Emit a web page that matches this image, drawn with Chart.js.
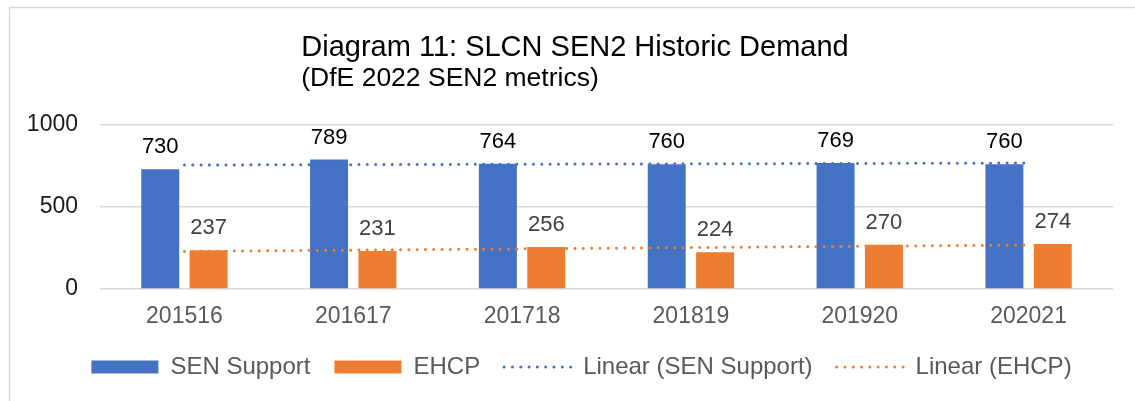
<!DOCTYPE html>
<html><head><meta charset="utf-8">
<script src="https://cdn.jsdelivr.net/npm/chart.js@4/dist/chart.umd.min.js"></script>
<style>html,body{margin:0;padding:0;background:#fff;} canvas{display:block;}</style>
</head><body>
<canvas id="c" width="1135" height="401"></canvas>
<script>
const titleText = 'Diagram 11: SLCN SEN2 Historic Demand';
const subtitleText = '(DfE 2022 SEN2 metrics)';
const categories = ['201516', '201617', '201718', '201819', '201920', '202021'];
const senSupport = [730, 789, 764, 760, 769, 760];
const ehcp = [237, 231, 256, 224, 270, 274];
// trend line end points (first and last category)
const trendSenSupport = [756, null, null, null, null, 768];
const trendEhcp = [229, null, null, null, null, 268];
const yTicks = [0, 500, 1000];
const seriesNames = ['SEN Support', 'EHCP', 'Linear (SEN Support)', 'Linear (EHCP)'];

const FONT = "'Liberation Sans', Arial, sans-serif";
const BLUE = '#4472C4', ORANGE = '#ED7D31';

const framePlugin = {
  id: 'frame',
  beforeDraw(chart) {
    const ctx = chart.ctx;
    ctx.save();
    ctx.fillStyle = '#fff';
    ctx.fillRect(0, 0, chart.width, chart.height);
    ctx.strokeStyle = '#d9d9d9';
    ctx.lineWidth = 1.5;
    ctx.strokeRect(9.5, 7.5, 1300, 600);
    ctx.restore();
  }
};

const legendShiftPlugin = {
  id: 'legendShift',
  afterLayout(chart) {
    if (chart.legend) chart.legend.left += 50;
  }
};

const titlePlugin = {
  id: 'titles',
  afterDraw(chart) {
    const ctx = chart.ctx;
    ctx.save();
    ctx.fillStyle = '#000';
    ctx.textBaseline = 'alphabetic';
    ctx.textAlign = 'left';
    ctx.font = '29px ' + FONT;
    const w = ctx.measureText(titleText).width;
    const x0 = 575 - w / 2;
    ctx.fillText(titleText, x0, 56);
    ctx.font = '26.5px ' + FONT;
    ctx.fillText(subtitleText, x0, 86);
    ctx.restore();
  }
};

const valueLabelPlugin = {
  id: 'valueLabels',
  afterDatasetsDraw(chart) {
    const ctx = chart.ctx;
    ctx.save();
    ctx.font = '22px ' + FONT;
    ctx.textAlign = 'center';
    ctx.textBaseline = 'alphabetic';
    chart.data.datasets.forEach((ds, i) => {
      if (ds.type !== 'bar') return;
      const meta = chart.getDatasetMeta(i);
      ctx.fillStyle = ds.labelColor;
      meta.data.forEach((el, j) => {
        ctx.fillText(String(ds.data[j]), el.x, el.y - 16);
      });
    });
    ctx.restore();
  }
};

new Chart(document.getElementById('c'), {
  data: {
    labels: categories,
    datasets: [
      { type: 'bar', label: seriesNames[0], data: senSupport, backgroundColor: BLUE, labelColor: '#000',
        barPercentage: 0.785, categoryPercentage: 0.573, order: 1 },
      { type: 'bar', label: seriesNames[1], data: ehcp, backgroundColor: ORANGE, labelColor: '#404040',
        barPercentage: 0.785, categoryPercentage: 0.573, order: 1 },
      { type: 'line', label: seriesNames[2], data: trendSenSupport, borderColor: BLUE, borderWidth: 3,
        borderDash: [0.01, 8.3], borderCapStyle: 'round', pointRadius: 0, spanGaps: true, fill: false, order: 0 },
      { type: 'line', label: seriesNames[3], data: trendEhcp, borderColor: ORANGE, borderWidth: 3,
        borderDash: [0.01, 8.3], borderCapStyle: 'round', pointRadius: 0, spanGaps: true, fill: false, order: 0 }
    ]
  },
  options: {
    responsive: false,
    devicePixelRatio: 1,
    animation: false,
    layout: { padding: { top: 125, left: 0, right: 22, bottom: 12 } },
    plugins: {
      title: { display: false },
      tooltip: { enabled: false },
      legend: {
        position: 'bottom',
        labels: {
          usePointStyle: true,
          pointStyleWidth: 67,
          boxHeight: 13,
          padding: 24,
          color: '#595959',
          font: { family: FONT, size: 24 },
          generateLabels(chart) {
            return chart.data.datasets.map((ds, i) => {
              const isLine = ds.type === 'line';
              return {
                text: ds.label,
                datasetIndex: i,
                fillStyle: isLine ? 'rgba(0,0,0,0)' : ds.backgroundColor,
                strokeStyle: isLine ? ds.borderColor : ds.backgroundColor,
                lineWidth: isLine ? 3 : 0,
                lineDash: isLine ? [0.01, 8.3] : [],
                lineCap: 'round',
                pointStyle: isLine ? 'line' : 'rect',
                fontColor: '#595959',
                hidden: false
              };
            });
          }
        }
      }
    },
    scales: {
      x: {
        grid: { display: false, drawTicks: false },
        border: { display: false },
        ticks: { color: '#595959', font: { family: FONT, size: 23 }, padding: 14, maxRotation: 0 },
        afterFit(scale) { scale.height = 42; }
      },
      y: {
        min: 0, max: 1000,
        grid: { color: '#d9d9d9', lineWidth: 1.5, drawTicks: false },
        border: { display: false },
        ticks: { color: '#1a1a1a', font: { family: FONT, size: 23 }, padding: 22,
                 callback: v => String(v) },
        afterBuildTicks(scale) { scale.ticks = yTicks.map(v => ({ value: v })); },
        afterFit(scale) { scale.width = 100; }
      }
    }
  },
  plugins: [framePlugin, legendShiftPlugin, valueLabelPlugin, titlePlugin]
});
</script>
</body></html>
